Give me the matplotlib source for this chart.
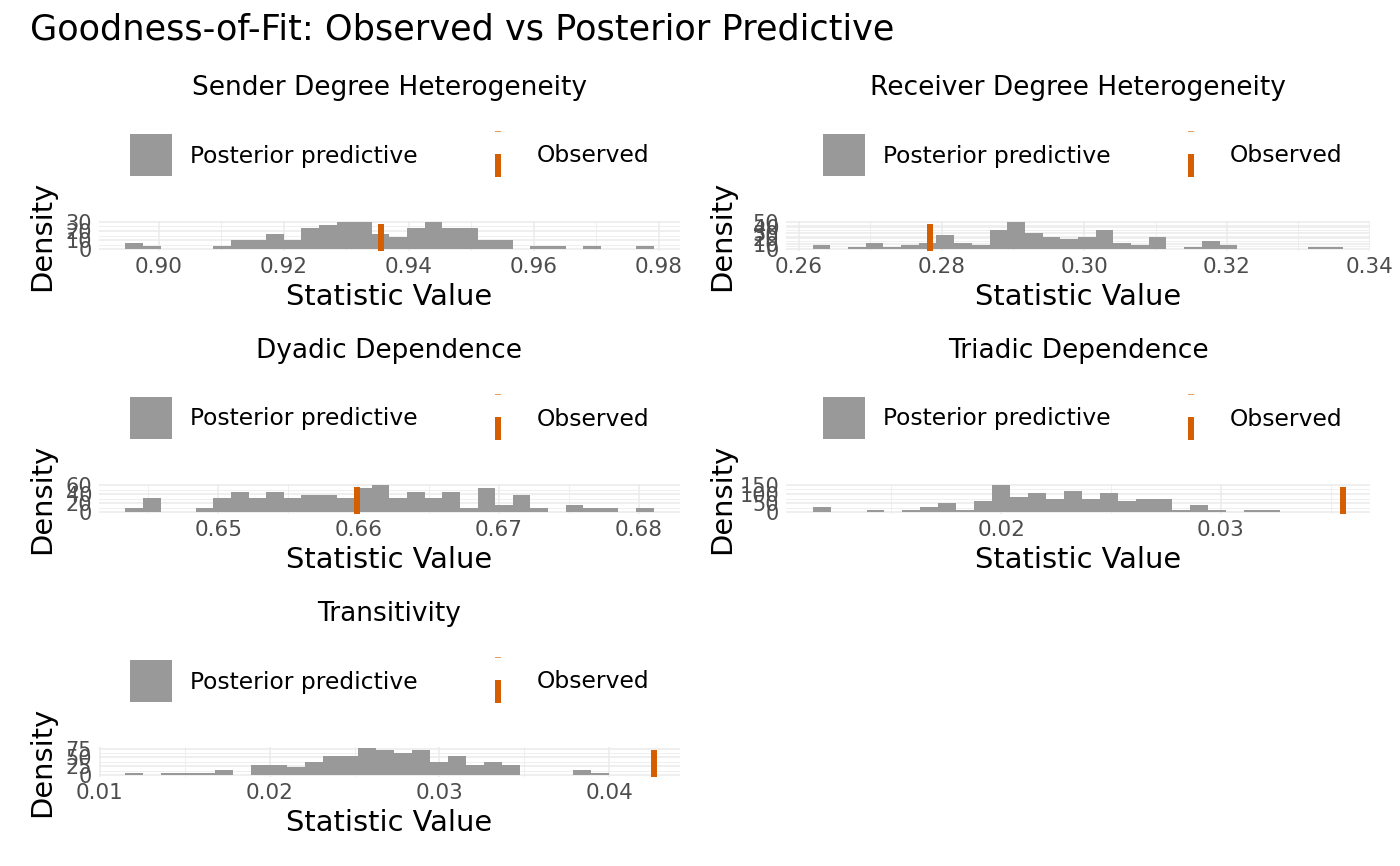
import numpy as np
import matplotlib
matplotlib.use("Agg")
import matplotlib.pyplot as plt
from matplotlib.patches import Rectangle

# ---- data (density per histogram bin) ----
titles = ["Sender Degree Heterogeneity", "Receiver Degree Heterogeneity",
          "Dyadic Dependence", "Triadic Dependence", "Transitivity"]

sender_start, sender_width = 0.89463, 0.002819
sender_dens = [7.3, 3.7, 0, 0, 0, 3.7, 10.3, 10.3, 16.8, 10.3,
               23.4, 26.7, 30, 30, 16.8, 13.5, 23.4, 30, 23.4, 23.4,
               10.3, 10.3, 0, 3.7, 3.7, 0, 3.7, 0, 0, 3.7]
sender_obs = 0.9356

receiver_start, receiver_width = 0.26190, 0.002481
receiver_dens = [7.4, 0, 3.7, 11.1, 3.7, 7.4, 11.1, 25.9, 11.1, 7.4,
                 35.2, 50, 29.6, 22.2, 18.5, 22.2, 35.2, 11.1, 7.4, 22.2,
                 0, 3.7, 14.8, 7.4, 0, 0, 0, 0, 3.7, 3.7]
receiver_obs = 0.2784

dyadic_start, dyadic_width = 0.64336, 0.001257
dyadic_dens = [9.1, 31.8, 0, 0, 9.1, 31.8, 45.5, 31.8, 45.5, 31.8,
               38.6, 38.6, 31.8, 54.5, 61.4, 31.8, 45.5, 31.8, 45.5, 9.1,
               54.5, 15.9, 38.6, 9.1, 0, 15.9, 9.1, 9.1, 0, 9.1]
dyadic_obs = 0.6599

triadic_start, triadic_width = 0.011405, 0.000819
triadic_dens = [27.8, 0, 0, 11.1, 0, 11.1, 27.8, 50, 11.1, 61.1,
                150, 83.3, 105.6, 72.2, 116.7, 72.2, 105.6, 61.1, 72.2, 72.2,
                11.1, 38.9, 11.1, 0, 11.1, 11.1]
triadic_obs = 0.03558

trans_start, trans_width = 0.0115, 0.001056
trans_dens = [5, 0, 5, 5, 5, 14, 0, 29, 29, 23,
              38, 53, 53, 77, 71, 62, 71, 38, 53, 29,
              38, 29, 0, 0, 0, 14, 5]
trans_obs = 0.04262

panels = [
    (sender_start, sender_width, sender_dens, sender_obs,
     [0.90, 0.92, 0.94, 0.96, 0.98], [0, 10, 20, 30]),
    (receiver_start, receiver_width, receiver_dens, receiver_obs,
     [0.26, 0.28, 0.30, 0.32, 0.34], [0, 10, 20, 30, 40, 50]),
    (dyadic_start, dyadic_width, dyadic_dens, dyadic_obs,
     [0.65, 0.66, 0.67, 0.68], [0, 20, 40, 60]),
    (triadic_start, triadic_width, triadic_dens, triadic_obs,
     [0.02, 0.03], [0, 50, 100, 150]),
    (trans_start, trans_width, trans_dens, trans_obs,
     [0.01, 0.02, 0.03, 0.04], [0, 25, 50, 75]),
]

BAR = "#999999"
ORANGE = "#D55E00"
GRID = "#EBEBEB"
TICK = "#4D4D4D"

W, H = 1400, 866
fig = plt.figure(figsize=(W / 100, H / 100), dpi=100)

# overlay in pixel coordinates for titles, legends and axis titles
over = fig.add_axes([0, 0, 1, 1])
over.set_xlim(0, W)
over.set_ylim(H, 0)
over.axis("off")

over.text(30, 29, "Goodness-of-Fit: Observed vs Posterior Predictive",
          fontsize=25.3, va="center", ha="left")

col_x = [(99, 680), (786, 1370)]
row_dy = 263

for k, (start, width, dens, obs, xt, yt) in enumerate(panels):
    row, col = divmod(k, 2)
    x0, x1 = col_x[col]
    y0, y1 = 220.5 + row * row_dy, 250.5 + row * row_dy
    cx = (x0 + x1) / 2
    off = col * 693
    dy = row * row_dy

    ax = fig.add_axes([x0 / W, 1 - y1 / H, (x1 - x0) / W, (y1 - y0) / H])
    ax.set_zorder(2)
    lefts = start + width * np.arange(len(dens))
    ax.bar(lefts, dens, width=width, align="edge", color=BAR,
           linewidth=0, zorder=2)
    ax.axvline(obs, ymin=0, ymax=0.8, color=ORANGE, lw=4.3, zorder=3)

    lo = min(start, obs)
    hi = max(start + width * len(dens), obs)
    pad = 0.05 * (hi - lo)
    top = max(dens)

    ax.set_xticks(xt)
    ax.set_xticklabels(["{:.2f}".format(v) for v in xt])
    step = xt[1] - xt[0]
    ax.set_xticks(np.arange(xt[0] - step * 1.5, hi + pad + step, step / 2),
                  minor=True)
    ax.set_yticks(yt)
    ys = yt[1] - yt[0]
    ax.set_yticks(np.arange(yt[0] + ys / 2, 1.05 * top, ys), minor=True)
    # limits after ticks, so the ticks do not widen the view
    ax.set_xlim(lo - pad, hi + pad)
    ax.set_ylim(-0.05 * top, 1.05 * top)

    ax.grid(which="major", color=GRID, lw=1.1, zorder=0)
    ax.grid(which="minor", color=GRID, lw=0.55, zorder=0)
    ax.set_axisbelow(True)
    for s in ax.spines.values():
        s.set_visible(False)
    ax.tick_params(which="both", length=0)
    ax.tick_params(axis="x", labelsize=15.5, colors=TICK, pad=5)
    ax.tick_params(axis="y", labelsize=15, colors=TICK, pad=5)

    # panel title, axis titles
    over.text(cx, 88 + dy, titles[k], fontsize=19, ha="center", va="center")
    over.text(cx, 297 + dy, "Statistic Value", fontsize=20.8,
              ha="center", va="center")
    over.text(42 + col * 680, (y0 + y1) / 2, "Density", fontsize=20.8,
              rotation=90, ha="center", va="center")

    # legend
    over.add_patch(Rectangle((130 + off, 134 + dy), 42, 42, color=BAR, lw=0))
    over.text(190 + off, 156 + dy, "Posterior predictive", fontsize=16.8,
              ha="left", va="center")
    over.add_patch(Rectangle((495 + off, 131 + dy), 6, 1.2, color=ORANGE,
                             lw=0, alpha=0.6))
    over.add_patch(Rectangle((495 + off, 154 + dy), 6, 23, color=ORANGE, lw=0))
    over.text(537 + off, 156 + dy, "Observed", fontsize=16.8,
              ha="left", va="center")

fig.savefig("out.png", dpi=100)
